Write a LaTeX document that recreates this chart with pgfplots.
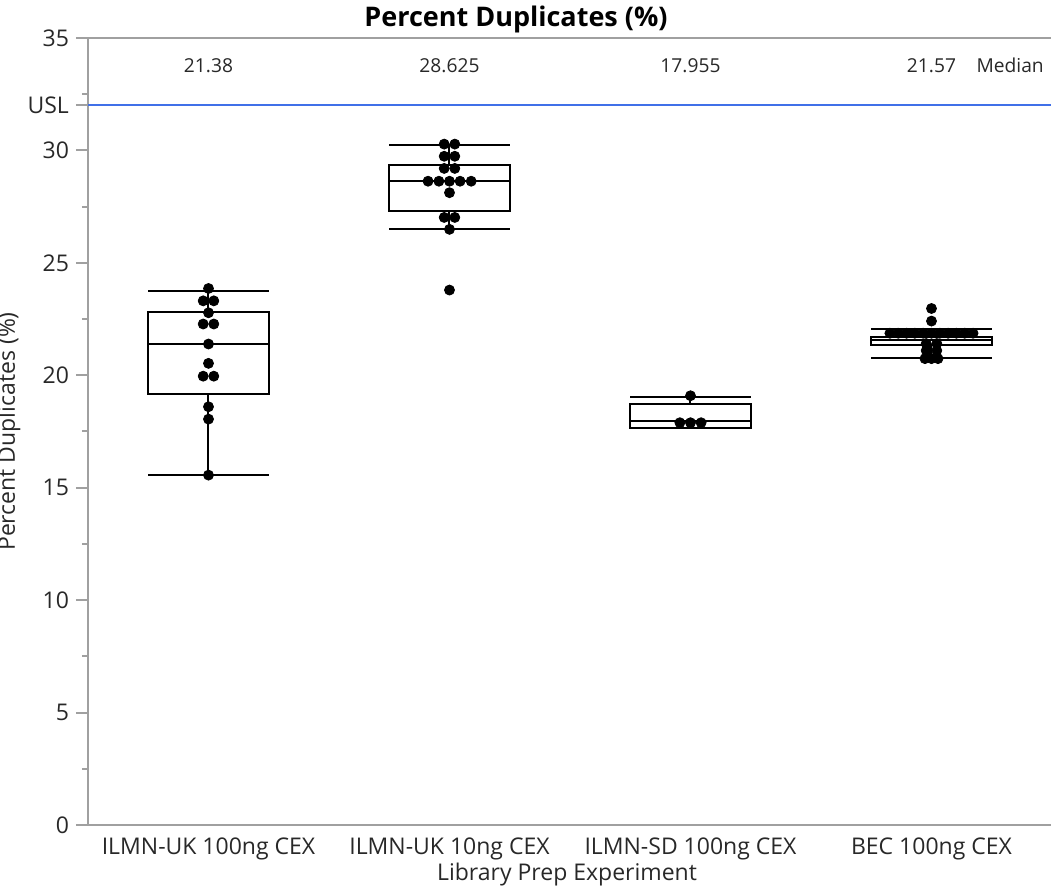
\documentclass[border=0pt]{standalone}
\usepackage{fontspec}
\setmainfont{Open Sans}
\usepackage{pgfplots}
\pgfplotsset{compat=1.18}
\usepgfplotslibrary{statistics}
\definecolor{axisgray}{RGB}{160,160,160}
\definecolor{usl}{RGB}{64,112,232}
\definecolor{txt}{RGB}{40,40,40}
\newcommand{\tf}{\fontsize{11.5}{13}\selectfont}
\newcommand{\mf}{\fontsize{9.6}{11}\selectfont}
\pgfplotsset{bx/.style={boxplot prepared={draw position=#1, box extend=0.5, whisker extend=0.5}}}
\begin{document}
\begin{tikzpicture}
\begin{axis}[
  at={(0,0)}, anchor=south west,
  scale only axis, width=482pt, height=393.5pt,
  xmin=-0.5, xmax=3.5, ymin=0, ymax=35,
  axis lines*=left,
  axis line style={axisgray, line width=1pt},
  xtick={0,1,2,3},
  xticklabels={ILMN-UK 100ng CEX, ILMN-UK 10ng CEX, ILMN-SD 100ng CEX, BEC 100ng CEX},
  x tick label style={font=\tf, text=txt, yshift=3pt},
  xtick style={draw=none},
  ytick={0,5,...,35},
  minor y tick num=1,
  tick align=outside,
  y tick label style={font=\tf, text=txt},
  ytick style={axisgray, line width=1pt},
  major tick length=6pt, minor tick length=3pt,
  extra y ticks={32}, extra y tick labels={USL},
  extra y tick style={tick style={usl}, tick label style={text=usl}},
  /pgf/number format/assume math mode=true,
  clip=false,
  boxplot/draw direction=y,
]
\draw[axisgray, line width=1pt] (rel axis cs:0,1) -- (rel axis cs:1,1);
\addplot[usl, line width=1pt] coordinates {(-0.5,32) (3.5,32)};

\addplot+[boxplot prepared={draw position=0, lower whisker=15.56, lower quartile=19.16, median=21.38, upper quartile=22.82, upper whisker=23.74, box extend=0.5, whisker extend=0.5}, black, solid, mark=none, line width=1pt] coordinates {};
\addplot+[boxplot prepared={draw position=1, lower whisker=26.5, lower quartile=27.32, median=28.625, upper quartile=29.36, upper whisker=30.24, box extend=0.5, whisker extend=0.5}, black, solid, mark=none, line width=1pt] coordinates {};
\addplot+[boxplot prepared={draw position=2, lower whisker=17.67, lower quartile=17.67, median=17.955, upper quartile=18.72, upper whisker=19.02, box extend=0.5, whisker extend=0.5}, black, solid, mark=none, line width=1pt] coordinates {};
\addplot+[boxplot prepared={draw position=3, lower whisker=20.78, lower quartile=21.34, median=21.57, upper quartile=21.70, upper whisker=22.04, box extend=0.5, whisker extend=0.5}, black, solid, mark=none, line width=1pt] coordinates {};

\addplot[only marks, mark=*, mark size=2.5pt, black] coordinates {
(0,23.86) (-0.022,23.31) (0.022,23.31) (0,22.78) (-0.022,22.28) (0.022,22.28)
(0,21.39) (0,20.53) (-0.022,19.96) (0.022,19.96) (0,18.6) (0,18.05) (0,15.56)
};
\addplot[only marks, mark=*, mark size=2.5pt, black] coordinates {
(0.978,30.28) (1.022,30.28) (0.978,29.74) (1.022,29.74) (0.978,29.2) (1.022,29.2)
(0.911,28.63) (0.956,28.63) (1,28.63) (1.044,28.63) (1.09,28.63)
(1,28.12) (0.978,27.02) (1.022,27.02) (1,26.49) (1,23.79)
};
\addplot[only marks, mark=*, mark size=2.5pt, black] coordinates {
(2,19.09) (1.956,17.89) (2,17.89) (2.044,17.89)
};
\addplot[only marks, mark=*, mark size=2.5pt, black] coordinates {
(3,22.97) (3,22.41)
(2.8275,21.87) (2.862,21.87) (2.8965,21.87) (2.931,21.87) (2.9655,21.87) (3,21.87)
(3.0345,21.87) (3.069,21.87) (3.1035,21.87) (3.138,21.87) (3.1725,21.87)
(2.978,21.41) (3.022,21.41) (2.978,21.1) (3.022,21.1)
(2.973,20.74) (3,20.74) (3.027,20.74)
};

\node[font=\mf, text=txt, anchor=base] at (axis cs:0,33.48) {21.38};
\node[font=\mf, text=txt, anchor=base] at (axis cs:1,33.48) {28.625};
\node[font=\mf, text=txt, anchor=base] at (axis cs:2,33.48) {17.955};
\node[font=\mf, text=txt, anchor=base] at (axis cs:3,33.48) {21.57};
\node[font=\mf, text=txt, anchor=base west, xshift=19pt] at (axis cs:3,33.48) {Median};
\end{axis}
\node[font=\bfseries\fontsize{13.5}{15}\selectfont, anchor=base] at (214pt,399pt) {Percent Duplicates (\%)};
\node[font=\tf, text=txt, rotate=90, anchor=base] at (-36.5pt,196.75pt) {Percent Duplicates (\%)};
\node[font=\tf, text=txt, anchor=base] at (239.5pt,-28pt) {Library Prep Experiment};
\pgfresetboundingbox
\path[use as bounding box] (-44pt,-31pt) rectangle (481.5pt,412.5pt);
\end{tikzpicture}
\end{document}
